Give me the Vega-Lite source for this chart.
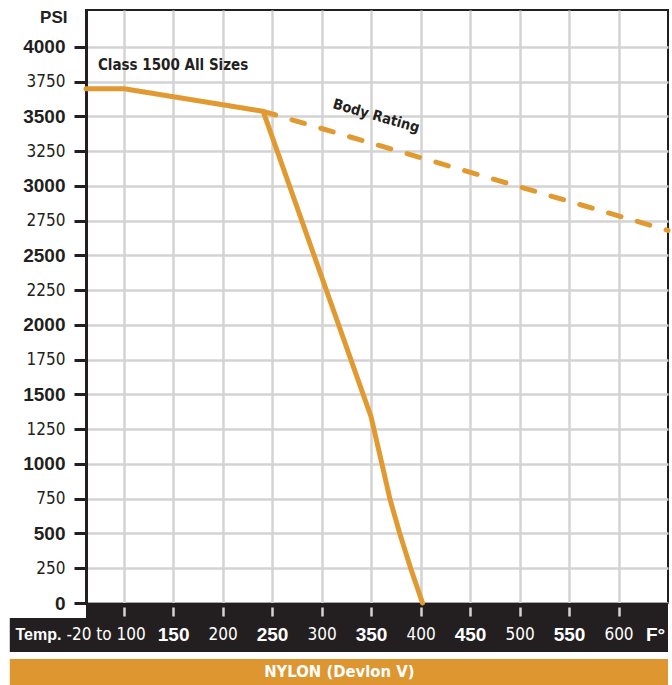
{
  "$schema": "https://vega.github.io/schema/vega-lite/v6.json",
  "width": 582,
  "height": 593,
  "autosize": "none",
  "padding": {"left": 86, "top": 10, "right": 4, "bottom": 82},
  "background": "white",
  "config": {"view": {"stroke": "#231f20", "strokeWidth": 2}, "font": "DejaVu Sans Condensed"},
  "datasets": {
    "ratings": [
      {"series": "Nylon", "temp": 62, "psi": 3700},
      {"series": "Nylon", "temp": 100, "psi": 3700},
      {"series": "Nylon", "temp": 241, "psi": 3537},
      {"series": "Nylon", "temp": 350, "psi": 1340},
      {"series": "Nylon", "temp": 361, "psi": 1000},
      {"series": "Nylon", "temp": 369, "psi": 750},
      {"series": "Nylon", "temp": 379, "psi": 500},
      {"series": "Nylon", "temp": 390, "psi": 250},
      {"series": "Nylon", "temp": 402, "psi": 0},
      {"series": "Body Rating", "temp": 241, "psi": 3537},
      {"series": "Body Rating", "temp": 650, "psi": 2680}
    ]
  },
  "resolve": {"axis": {"x": "independent", "y": "independent"}},
  "layer": [
    {
      "data": {"values": [{}]},
      "mark": {"type": "rect", "color": "#DE9630"},
      "encoding": {
        "x": {"datum": -15, "type": "quantitative", "scale": {"domain": [62, 650], "nice": false, "zero": false}, "axis": null},
        "x2": {"datum": 650},
        "y": {"datum": -403, "type": "quantitative", "scale": {"domain": [0, 4266], "nice": false, "zero": false}, "axis": null},
        "y2": {"datum": -590}
      }
    },
    {
      "data": {"values": [{}]},
      "mark": {"type": "rect", "color": "#231f20"},
      "encoding": {
        "x": {"datum": -15, "type": "quantitative", "scale": {"domain": [62, 650], "nice": false, "zero": false}, "axis": null},
        "x2": {"datum": 62},
        "y": {"datum": -108, "type": "quantitative", "scale": {"domain": [0, 4266], "nice": false, "zero": false}, "axis": null},
        "y2": {"datum": -352}
      }
    },
    {
      "data": {"values": [{}]},
      "mark": {"type": "rect", "color": "#231f20"},
      "encoding": {
        "x": {
          "datum": 62, "type": "quantitative",
          "scale": {"domain": [62, 650], "nice": false, "zero": false},
          "axis": {
            "orient": "bottom",
            "values": [100, 150, 200, 250, 300, 350, 400, 450, 500, 550, 600, 650],
            "grid": false, "domain": false, "zindex": 1, "offset": 4,
            "tickColor": {"condition": {"test": "datum.value === 650", "value": "transparent"}, "value": "#d4d4d4"},
            "tickWidth": 2.5, "tickSize": 9,
            "labelExpr": "datum.value === 100 ? '-20 to 100' : datum.value === 650 ? 'F°' : datum.label",
            "labelColor": "white", "labelBaseline": "middle", "labelPadding": 18,
            "labelFont": {"condition": {"test": "datum.value % 100 === 50", "value": "Liberation Sans"}, "value": "DejaVu Sans Condensed"},
            "labelFontWeight": {"condition": {"test": "datum.value % 100 === 50", "value": "bold"}, "value": "normal"},
            "labelFontSize": {"condition": {"test": "datum.value % 100 === 50", "value": 19}, "value": 17},
            "labelOffset": {"condition": [{"test": "datum.value === 100", "value": -18}, {"test": "datum.value === 650", "value": -13}], "value": 0},
            "labelFlush": false, "labelOverlap": false, "labelBound": false,
            "title": "Temp.", "titleColor": "white", "titleFont": "Liberation Sans", "titleFontWeight": "bold", "titleFontSize": 16,
            "titleX": -71, "titleY": 27, "titleAlign": "left", "titleBaseline": "middle"
          }
        },
        "x2": {"datum": 650},
        "y": {"datum": 0, "type": "quantitative", "scale": {"domain": [0, 4266], "nice": false, "zero": false}, "axis": null},
        "y2": {"datum": -352}
      }
    },
    {
      "data": {"name": "ratings"},
      "mark": {"type": "line", "color": "#E19A31", "strokeWidth": 5, "strokeCap": "round", "strokeJoin": "round"},
      "encoding": {
        "x": {
          "field": "temp", "type": "quantitative",
          "scale": {"domain": [62, 650], "nice": false, "zero": false},
          "axis": {
            "orient": "top", "values": [100, 150, 200, 250, 300, 350, 400, 450, 500, 550, 600],
            "grid": true, "gridColor": "#d3d3d3", "gridWidth": 2.5,
            "domain": false, "ticks": false, "labels": false, "title": null, "zindex": 0
          }
        },
        "y": {
          "field": "psi", "type": "quantitative",
          "scale": {"domain": [0, 4266], "nice": false, "zero": false},
          "axis": {
            "orient": "left", "format": "d",
            "values": [0, 250, 500, 750, 1000, 1250, 1500, 1750, 2000, 2250, 2500, 2750, 3000, 3250, 3500, 3750, 4000],
            "grid": true, "gridColor": "#d3d3d3", "gridWidth": 2.5,
            "domain": true, "domainColor": "#231f20", "domainWidth": 3,
            "tickColor": "#231f20", "tickWidth": 3, "tickSize": 12,
            "labelColor": "#231f20", "labelPadding": 9, "labelBaseline": "middle",
            "labelFont": {"condition": {"test": "datum.value % 500 === 0", "value": "Liberation Sans"}, "value": "DejaVu Sans Condensed"},
            "labelFontWeight": {"condition": {"test": "datum.value % 500 === 0", "value": "bold"}, "value": "normal"},
            "labelFontSize": {"condition": {"test": "datum.value % 500 === 0", "value": 19}, "value": 17},
            "labelFlush": false, "labelOverlap": false,
            "title": "PSI", "titleAngle": 0, "titleX": -19, "titleY": 7, "titleAlign": "right", "titleBaseline": "middle",
            "titleFont": "Liberation Sans", "titleFontWeight": "bold", "titleFontSize": 17, "titleColor": "#231f20"
          }
        },
        "strokeDash": {
          "field": "series", "type": "nominal",
          "scale": {"domain": ["Nylon", "Body Rating"], "range": [[1, 0], [13, 17]]},
          "legend": null
        }
      }
    },
    {
      "data": {"values": [{}]},
      "mark": {"type": "text", "text": "Class 1500 All Sizes", "align": "left", "baseline": "middle", "font": "DejaVu Sans Condensed", "fontSize": 15, "fontWeight": "bold", "color": "#231f20"},
      "encoding": {
        "x": {"datum": 74, "type": "quantitative", "scale": {"domain": [62, 650], "nice": false, "zero": false}, "axis": null},
        "y": {"datum": 3870, "type": "quantitative", "scale": {"domain": [0, 4266], "nice": false, "zero": false}, "axis": null}
      }
    },
    {
      "data": {"values": [{}]},
      "mark": {"type": "text", "text": "Body Rating", "align": "center", "baseline": "middle", "angle": 16, "font": "DejaVu Sans Condensed", "fontSize": 14.5, "fontWeight": "bold", "color": "#231f20"},
      "encoding": {
        "x": {"datum": 355, "type": "quantitative", "scale": {"domain": [62, 650], "nice": false, "zero": false}, "axis": null},
        "y": {"datum": 3500, "type": "quantitative", "scale": {"domain": [0, 4266], "nice": false, "zero": false}, "axis": null}
      }
    },
    {
      "data": {"values": [{}]},
      "mark": {"type": "text", "text": "NYLON (Devlon V)", "align": "center", "baseline": "middle", "font": "DejaVu Sans Condensed", "fontSize": 16.5, "fontWeight": "bold", "color": "white"},
      "encoding": {
        "x": {"datum": 318, "type": "quantitative", "scale": {"domain": [62, 650], "nice": false, "zero": false}, "axis": null},
        "y": {"datum": -497, "type": "quantitative", "scale": {"domain": [0, 4266], "nice": false, "zero": false}, "axis": null}
      }
    }
  ]
}
